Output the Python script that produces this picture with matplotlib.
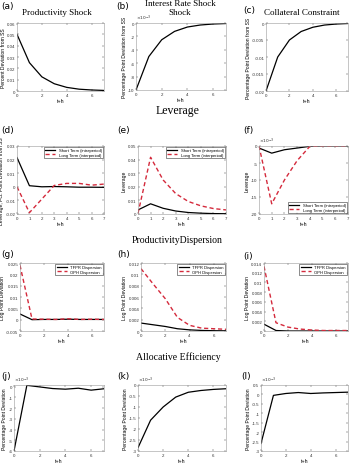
import numpy as np
import matplotlib
matplotlib.use('Agg')
import matplotlib.pyplot as plt
from matplotlib.ticker import FuncFormatter

plt.rcParams['axes.unicode_minus'] = False
plt.rcParams['font.family'] = ['Liberation Sans', 'DejaVu Sans']

# ---------------- data ----------------
h = [0, 1, 2, 3, 4, 5, 6, 7]

prod_shock = [0.05, 0.025, 0.0125, 0.0064, 0.0032, 0.0016, 0.0009, 0.0005]
rate_shock = [-0.010, -0.0050, -0.0025, -0.00125, -0.0006, -0.0003, -0.00015, -0.00008]
coll_shock = [-0.020, -0.010, -0.0050, -0.0025, -0.00125, -0.0006, -0.0003, -0.00015]

lev_d_short = [0.0215, 0.0008, 0.0000, 0.0002, 0.0000, -0.0003, -0.0003, -0.0004]
lev_d_long = [0.0000, -0.0190, -0.0090, 0.0010, 0.0025, 0.0025, 0.0012, 0.0020]
lev_e_short = [0.0030, 0.0075, 0.0042, 0.0022, 0.0011, 0.0006, 0.0003, 0.0002]
lev_e_long = [0.0005, 0.0417, 0.0250, 0.0150, 0.0092, 0.0060, 0.0040, 0.0030]
lev_f_short = [-0.0006, -0.0021, -0.0011, -0.0006, -0.0001, 0.0000, 0.0000, 0.0000]
lev_f_long = [0.0000, -0.0170, -0.0100, -0.0043, -0.0001, 0.0000, 0.0000, 0.0000]

disp_g_tfpr = [0.0025, 0.0000, 0.0001, 0.0001, 0.0002, 0.0001, 0.0001, 0.0001]
disp_g_oph = [0.0240, 0.0003, 0.0002, 0.0001, 0.0004, 0.0001, 0.0002, 0.0001]
disp_h_tfpr = [0.0014, 0.0011, 0.0008, 0.0004, 0.0002, 0.0001, 0.00005, 0.00003]
disp_h_oph = [0.0110, 0.0083, 0.0057, 0.0024, 0.0010, 0.0005, 0.0004, 0.0003]
disp_i_tfpr = [0.0014, 0.0001, 0.0000, 0.0000, 0.0000, 0.0000, 0.0000, 0.0000]
disp_i_oph = [0.0133, 0.0017, 0.0008, 0.0004, 0.0002, 0.0001, 0.0001, 0.0001]

ae_j = [-0.0060, 0.00012, -0.00003, -0.00018, -0.00024, -0.00015, -0.00033, -0.0002]
ae_k = [-0.00285, -0.0016, -0.0010, -0.00055, -0.00033, -0.00025, -0.0002, -0.00017]
ae_l = [-0.0026, -0.00005, 0.00005, 0.0001, 0.00005, 0.00008, 0.0001, 0.00012]

RED = '#d42a3c'
W, H = 350, 464

fig = plt.figure(figsize=(W / 100, H / 100), dpi=100)

def box(l, t, r, b):
    return [l / W, 1 - b / H, (r - l) / W, (b - t) / H]

def make_ax(rect, ylim, yticks, xticks, ylabel, sci=False):
    ax = fig.add_axes(box(*rect))
    ax.set_xlim(0, 7)
    ax.set_ylim(*ylim)
    ax.set_yticks(yticks)
    ax.set_xticks(xticks)
    ax.tick_params(direction='in', labelsize=3.2, length=1.5, width=0.3, pad=1.2,
                   colors='#333333', top=True, right=True, labeltop=False, labelright=False)
    for s in ax.spines.values():
        s.set_linewidth(0.4)
        s.set_color('#999999')
    ax.set_xlabel('t+h', fontsize=3.8, labelpad=1)
    ax.set_ylabel(ylabel, fontsize=3.6, labelpad=0.8)
    if sci:
        ax.yaxis.set_major_formatter(FuncFormatter(lambda v, p: '%g' % round(v * 1e3, 6)))
        ax.text(0.0, 1.015, r'$\times 10^{-3}$', transform=ax.transAxes, fontsize=3.2,
                ha='left', va='bottom', color='#333333')
    else:
        ax.yaxis.set_major_formatter(FuncFormatter(lambda v, p: '%g' % round(v, 6)))
    return ax

def legend(ax, labels, loc):
    lg = ax.legend(labels, loc=loc, fontsize=3, frameon=True, fancybox=False,
                   handlelength=2.5, borderpad=0.3, labelspacing=0.2, borderaxespad=0.2)
    lg.get_frame().set_edgecolor('black')
    lg.get_frame().set_linewidth(0.4)

def label(x, y, s):
    fig.text(x / W, 1 - y / H, s, fontsize=6.5, ha='left', va='center', family='DejaVu Sans')

def title(x, y, s, size=6.5):
    fig.text(x / W, 1 - y / H, s, fontsize=size, ha='center', va='center', family='Liberation Serif')

kb = dict(color='black', lw=0.9)
kr = dict(color=RED, lw=1.0, ls=(0, (3, 2)))
x6 = [0, 2, 4, 6]
x7 = list(range(8))

# -------- row 1: shocks --------
ax = make_ax((17, 24, 104, 92), (0, 0.06), np.arange(0, 0.061, 0.01), x6, 'Percent Deviation from SS')
ax.plot(h, prod_shock, **kb)
ax = make_ax((136, 24, 226, 91), (-0.010, 0), np.arange(-0.010, 0.0001, 0.002), x6,
             'Percentage Point Deviation from SS', sci=True)
ax.plot(h, rate_shock, **kb)
ax = make_ax((266, 24, 348, 92), (-0.02, 0), np.arange(-0.02, 0.0001, 0.005), x6,
             'Percentage Point Deviation from SS')
ax.plot(h, coll_shock, **kb)

label(1, 7, '(a)'); label(116, 6, '(b)'); label(243, 10, '(c)')
title(57, 13, 'Productivity Shock')
title(180, 4, 'Interest Rate Shock')
title(180, 13, 'Shock')
title(302, 13, 'Collateral Constraint')
title(178, 111, 'Leverage', size=8.5)

# -------- row 2: leverage --------
leg_lev = ['Short Term (intraperiod)', 'Long Term (interperiod)']
ax = make_ax((17, 147, 104, 215), (-0.02, 0.03), np.arange(-0.02, 0.031, 0.01), x7,
             'Leverage, Pct. Point Deviation from SS')
ax.plot(h, lev_d_short, **kb)
ax.plot(h, lev_d_long, **kr)
legend(ax, leg_lev, 'upper right')
ax = make_ax((138, 147, 226, 215), (0, 0.05), np.arange(0, 0.051, 0.01), x7, 'Leverage')
ax.plot(h, lev_e_short, **kb)
ax.plot(h, lev_e_long, **kr)
legend(ax, leg_lev, 'upper right')
ax = make_ax((259, 147, 348, 215), (-0.02, 0), np.arange(-0.02, 0.0001, 0.005), x7, 'Leverage', sci=True)
ax.plot(h, lev_f_short, **kb)
ax.plot(h, lev_f_long, **kr)
legend(ax, leg_lev, 'lower right')

label(1, 130, '(d)'); label(117, 130, '(e)'); label(243, 130, '(f)')
title(177, 241, 'ProductivityDispersion', size=7)

# -------- row 3: dispersion --------
leg_disp = ['TFPR Dispersion', 'OPH Dispersion']
ax = make_ax((20, 264, 104, 332), (-0.005, 0.025), np.arange(-0.005, 0.0251, 0.005), x6, 'Log Point Deviation')
ax.plot(h, disp_g_tfpr, **kb)
ax.plot(h, disp_g_oph, **kr)
legend(ax, leg_disp, 'upper right')
ax = make_ax((141, 264, 226, 332), (0, 0.012), np.arange(0, 0.0121, 0.002), x6, 'Log Point Deviation')
ax.plot(h, disp_h_tfpr, **kb)
ax.plot(h, disp_h_oph, **kr)
legend(ax, leg_disp, 'upper right')
ax = make_ax((264, 264, 348, 332), (0, 0.014), np.arange(0, 0.0141, 0.002), x6, 'Log Point Deviation')
ax.plot(h, disp_i_tfpr, **kb)
ax.plot(h, disp_i_oph, **kr)
legend(ax, leg_disp, 'upper right')

label(1, 255, '(g)'); label(117, 255, '(h)'); label(243, 257, '(i)')
title(178, 357, 'Allocative Efficiency', size=7)

# -------- row 4: allocative efficiency --------
ax = make_ax((14, 386, 104, 452), (-0.006, 0.00015), np.arange(-0.006, 0.0001, 0.001), x6,
             'Percentage Point Deviation', sci=True)
ax.plot(h, ae_j, **kb)
ax = make_ax((138, 386, 226, 452), (-0.003, 0), np.arange(-0.003, 0.0001, 0.0005), x6,
             'Percentage Point Deviation', sci=True)
ax.plot(h, ae_k, **kb)
ax = make_ax((261, 386, 348, 452), (-0.003, 0.0005), np.arange(-0.003, 0.00051, 0.0005), x6,
             'Percentage Point Deviation', sci=True)
ax.plot(h, ae_l, **kb)

label(1, 377, '(j)'); label(117, 377, '(k)'); label(241, 377, '(l)')

fig.savefig('out.png', dpi=100)
